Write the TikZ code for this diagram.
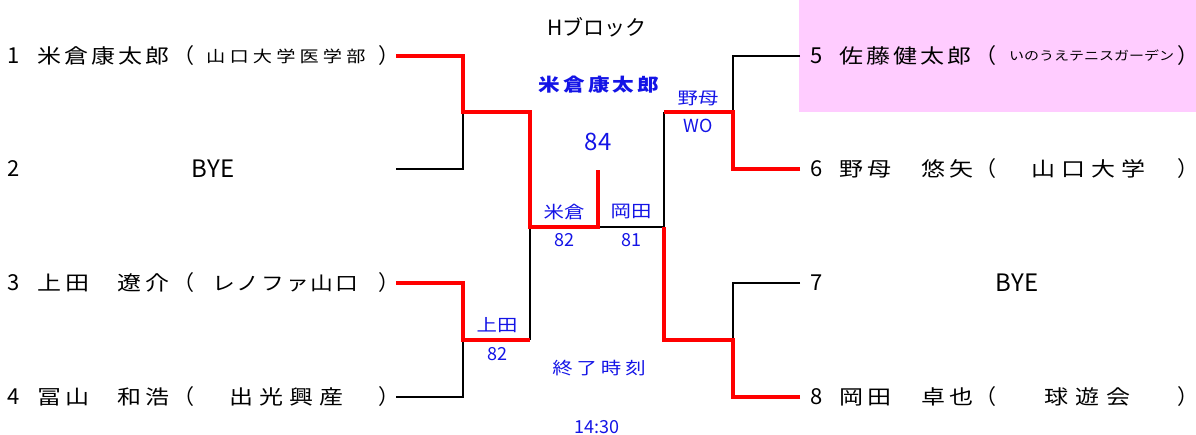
\documentclass[tikz,border=0pt]{standalone}
\usepackage{fontspec}
\setmainfont{Noto Sans CJK JP}
\usetikzlibrary{positioning, calc}
\definecolor{pinkbg}{RGB}{255,204,255}
\definecolor{scoreblue}{RGB}{20,20,230}

\begin{document}
\begin{tikzpicture}[x=1pt, y=-1pt,
    every node/.style={inner sep=0pt},
    jp/.style 2 args={font=\fontsize{#1}{#1}\selectfont\addfontfeature{FakeStretch=1.2, LetterSpace=#2}},
    num/.style={font=\fontsize{22}{22}\selectfont},
    lpar/.style={font=\fontsize{21}{21}\selectfont, anchor=east},
    rpar/.style={font=\fontsize{21}{21}\selectfont, anchor=west},
    lbl/.style={text=scoreblue, font=\fontsize{18}{18}\selectfont},
    jl/.style={text=scoreblue, font=\fontsize{17}{17}\selectfont\addfontfeature{FakeStretch=1.2}},
    loser/.style={draw=black, line width=2.7pt},
    winner/.style={draw=red, line width=4pt}]
    \useasboundingbox (0,0) rectangle (1196,434);
    \fill[pinkbg] (799,0) rectangle (1196,112);

    % line ends
    \coordinate (l1) at (396,56);
    \coordinate (l2) at (396,169);
    \coordinate (l3) at (396,283);
    \coordinate (l4) at (396,397);
    \coordinate (r5) at (800,56);
    \coordinate (r6) at (800,169);
    \coordinate (r7) at (800,283);
    \coordinate (r8) at (800,397);
    \coordinate (a) at (463,112);
    \coordinate (b) at (463,340);
    \coordinate (c) at (733,112);
    \coordinate (d) at (733,340);
    \coordinate (al) at (530,112);
    \coordinate (sl) at (530,340);
    \coordinate (ar) at (664,112);
    \coordinate (sr) at (664,340);
    \coordinate (sL) at (530,227);
    \coordinate (sR) at (664,227);
    \coordinate (top) at (598,227);
    \coordinate (champ) at (598,170);

    % left players
    \node[num] (n1) at (14,56) {1};
    \node[jp={20}{15}, anchor=west] (p1) at (37,56) {米倉康太郎};
    \node[lpar] (o1) at (195,56) {\makebox[0.5em][r]{（}};
    \node[jp={16}{26}, anchor=west] (t1) at (206,56) {山口大学医学部};
    \node[rpar] (c1) at (378,56) {\makebox[0.5em][l]{）}};

    \node[num] (n2) at (14,169) {2};
    \node[num, font=\fontsize{24}{24}\selectfont] (p2) at (213,169) {BYE};

    \node[num] (n3) at (14,283) {3};
    \node[jp={20}{20}, anchor=west] (p3) at (37,283) {上田};
    \node[jp={20}{20}, anchor=west] (q3) at (117,283) {遼介};
    \node[lpar] (o3) at (195,283) {\makebox[0.5em][r]{（}};
    \node[jp={19}{10}, anchor=west] (t3) at (212,283) {レノファ山口};
    \node[rpar] (c3) at (378,283) {\makebox[0.5em][l]{）}};

    \node[num] (n4) at (14,397) {4};
    \node[jp={20}{20}, anchor=west] (p4) at (37,397) {冨山};
    \node[jp={20}{20}, anchor=west] (q4) at (117,397) {和浩};
    \node[lpar] (o4) at (195,397) {\makebox[0.5em][r]{（}};
    \node[jp={20}{31}, anchor=west] (t4) at (229,397) {出光興産};
    \node[rpar] (c4) at (378,397) {\makebox[0.5em][l]{）}};

    % right players
    \node[num] (n5) at (817,56) {5};
    \node[jp={20}{15}, anchor=west] (p5) at (839,56) {佐藤健太郎};
    \node[lpar] (o5) at (997,56) {\makebox[0.5em][r]{（}};
    \node[jp={12.5}{0}, anchor=west] (t5) at (1009,56) {いのうえテニスガーデン};
    \node[rpar] (c5) at (1177,56) {\makebox[0.5em][l]{）}};

    \node[num] (n6) at (817,169) {6};
    \node[jp={20}{20}, anchor=west] (p6) at (839,169) {野母};
    \node[jp={20}{20}, anchor=west] (q6) at (921,169) {悠矢};
    \node[lpar] (o6) at (997,169) {\makebox[0.5em][r]{（}};
    \node[jp={20}{31}, anchor=west] (t6) at (1031,169) {山口大学};
    \node[rpar] (c6) at (1177,169) {\makebox[0.5em][l]{）}};

    \node[num] (n7) at (817,283) {7};
    \node[num, font=\fontsize{24}{24}\selectfont] (p7) at (1017,283) {BYE};

    \node[num] (n8) at (817,397) {8};
    \node[jp={20}{20}, anchor=west] (p8) at (839,397) {岡田};
    \node[jp={20}{20}, anchor=west] (q8) at (921,397) {卓也};
    \node[lpar] (o8) at (997,397) {\makebox[0.5em][r]{（}};
    \node[jp={20}{37}, anchor=west] (t8) at (1044,397) {球遊会};
    \node[rpar] (c8) at (1177,397) {\makebox[0.5em][l]{）}};

    % centre labels
    \node[font=\fontsize{21}{21}\selectfont] (title) at (597,27) {Hブロック};
    \node[text=scoreblue, font=\fontsize{18}{18}\selectfont\bfseries\addfontfeature{FakeStretch=1.2, LetterSpace=17}] (champion) at (599,85) {米倉康太郎};
    \node[lbl, font=\fontsize{24}{24}\selectfont] (final) at (598,142) {84};
    \node[jl] (w56) at (698,98) {野母};
    \node[lbl] (s56) at (698,126) {WO};
    \node[jl] (wl) at (564,212) {米倉};
    \node[lbl] (sl1) at (564,240) {82};
    \node[jl] (wr) at (631,212) {岡田};
    \node[lbl] (sr1) at (631,240) {81};
    \node[jl] (w34) at (497,325) {上田};
    \node[lbl] (s34) at (497,354) {82};
    \node[jl, font=\fontsize{17}{17}\selectfont\addfontfeature{FakeStretch=1.2, LetterSpace=23}] (endlbl) at (599,368) {終了時刻};
    \node[lbl] (endtime) at (597,427) {14:30};

    % bracket
    \draw[loser] (l2) -| (a);
    \draw[loser] (l4) -| (b);
    \draw[loser] (sl) -- (sL);
    \draw[loser] (r5) -| (c);
    \draw[loser] (r7) -| (d);
    \draw[loser] (ar) -- (sR) -- (top);
    \draw[winner] (l1) -| (a) -- (al) -- (sL) -- (top) -- (champ);
    \draw[winner] (l3) -| (b) -- (sl);
    \draw[winner] (r6) -| (c) -- (ar);
    \draw[winner] (r8) -| (d) -- (sr) -- (sR);
\end{tikzpicture}
\end{document}
